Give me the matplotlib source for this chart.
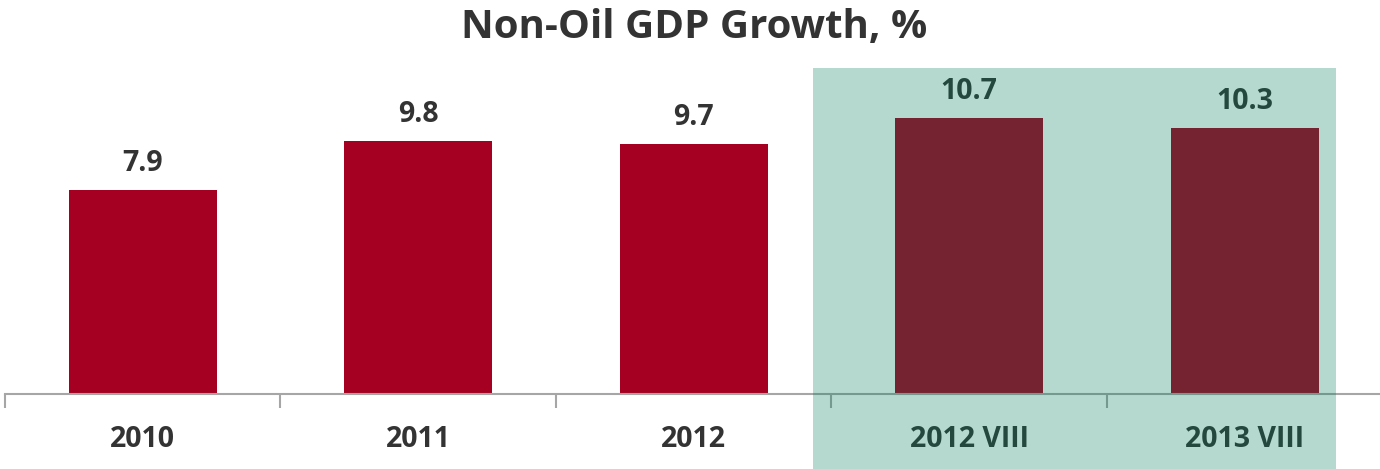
import matplotlib
matplotlib.use("Agg")
import matplotlib.pyplot as plt
from matplotlib.patches import Rectangle
import numpy as np

categories = ["2010", "2011", "2012", "2012 VIII", "2013 VIII"]
values = [7.9, 9.8, 9.7, 10.7, 10.3]
title = "Non-Oil GDP Growth, %"

W, H = 1380, 469
fig = plt.figure(figsize=(W / 100, H / 100), dpi=100)
fig.patch.set_facecolor("white")

left_px, right_px = 5, 1382.5
base_px = 394
ymax = 15.0
px_per_unit = 25.8
ax = fig.add_axes([left_px / W, (H - base_px) / H, (right_px - left_px) / W,
                   ymax * px_per_unit / H])
ax.set_facecolor("none")

x = np.arange(len(categories))
ax.bar(x, values, width=0.537, color="#A50021", zorder=2)
ax.set_xlim(-0.5, len(categories) - 0.5)
ax.set_ylim(0, ymax)

font = "Open Sans"
for xi, v in zip(x, values):
    ax.annotate(f"{v:.1f}", (xi, v), xytext=(0, 19), textcoords="offset pixels",
                ha="center", va="baseline", fontsize=20.5, fontweight="bold",
                color="#333333", family=font)

for s in ["top", "right", "left"]:
    ax.spines[s].set_visible(False)
ax.spines["bottom"].set_color("#A6A6A6")
ax.spines["bottom"].set_linewidth(1.5)
ax.set_yticks([])
ax.set_xticks(x)
ax.set_xticklabels(categories, fontsize=20.5, fontweight="bold", color="#333333",
                   family=font)
ax.tick_params(axis="x", which="major", length=0, pad=22)
ax.set_xticks(np.arange(-0.5, len(categories), 1.0), minor=True)
ax.tick_params(axis="x", which="minor", length=10, width=1.5, color="#A6A6A6")

fig.text(694 / W, 1 - 38 / H, title, ha="center", va="baseline", fontsize=29,
         fontweight="bold", color="#333333", family=font)

# highlight overlay
fig.patches.append(Rectangle((813 / W, 0), (1336 - 813) / W, (H - 68) / H,
                             transform=fig.transFigure, facecolor=(0, 124 / 255, 87 / 255),
                             alpha=0.29, edgecolor="none", zorder=10))

fig.savefig("out.png", dpi=100)
